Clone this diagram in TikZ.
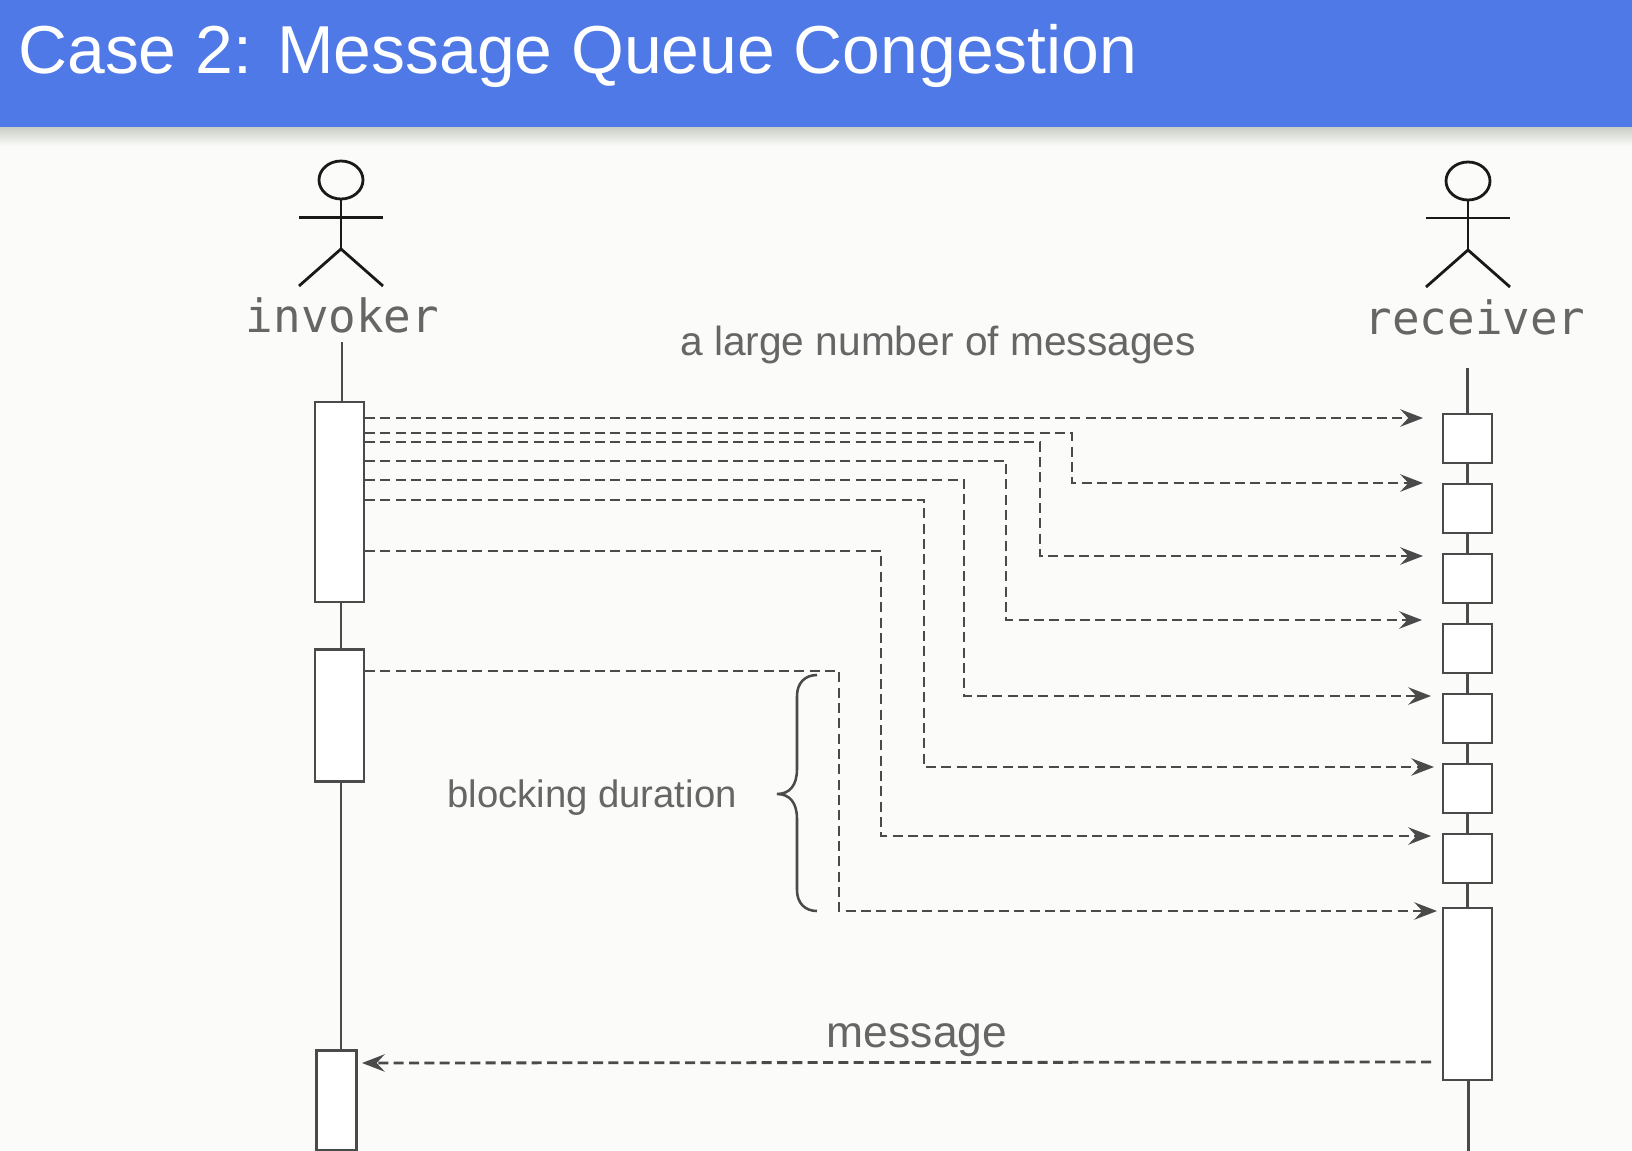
\documentclass[tikz,border=0pt]{standalone}
\usepackage{fontspec}
\setmainfont{Liberation Sans}
\newfontfamily\actorfont{DejaVu Sans Mono}
\usetikzlibrary{arrows.meta,calc,shapes.geometric}
\definecolor{pagebg}{HTML}{FBFBF9}
\definecolor{headblue}{HTML}{4F79E6}
\definecolor{linegray}{HTML}{4A4A4A}
\definecolor{textgray}{HTML}{666666}
\definecolor{shadowtop}{HTML}{C9CEC4}
\tikzset{
  bar/.style={draw=linegray,fill=white,line width=1.9pt,inner sep=0pt,outer sep=0pt,anchor=north west},
  life/.style={draw=linegray,line width=1.8pt},
  msg/.style={draw=linegray,line width=2.1pt,dash pattern=on 7.5pt off 4pt,-{Stealth[length=17pt,width=13pt,inset=6pt,fill=linegray]}},
  stick/.style={draw=black!90,line width=2.1pt},
  txtlabel/.style={text=textgray,inner sep=0pt,anchor=base},
  actorname/.style={text=textgray,inner sep=0pt,anchor=base,font=\actorfont\fontsize{34.4pt}{36pt}\selectfont},
}
\begin{document}
\begin{tikzpicture}[x=0.75pt,y=-0.75pt]
\useasboundingbox (0,0) rectangle (1632,1150);
\fill[pagebg] (0,0) rectangle (1632,1150);
\shade[top color=shadowtop,bottom color=pagebg] (0,127) rectangle (1632,146);
\fill[headblue] (0,0) rectangle (1632,127);
\node[text=white,inner sep=0pt,anchor=base west,font=\fontsize{50.9pt}{54pt}\selectfont] (title) at (18,73) {Case 2: Message Queue Congestion};

\begin{scope}[shift={(0,1)}]
% invoker actor
\node[stick,ellipse,minimum width=33pt,minimum height=28.5pt,inner sep=0pt,outer sep=0pt] (ihead) at (341,179) {};
\coordinate (ihip) at (341,248);
\coordinate (iarml) at (299,216.5);
\coordinate (iarmr) at (383,216.5);
\coordinate (ilegl) at (299,285);
\coordinate (ilegr) at (383,285);
\draw[stick] (ihead.south) -- (ihip);
\draw[stick] (iarml) -- (iarmr);
\draw[stick] (ilegl) -- (ihip) -- (ilegr);
\node[actorname] (iname) at (342.5,331) {invoker};

% receiver actor
\node[stick,ellipse,minimum width=33pt,minimum height=28.5pt,inner sep=0pt,outer sep=0pt] (rhead) at (1468,180) {};
\coordinate (rhip) at (1468,249);
\coordinate (rarml) at (1426,217);
\coordinate (rarmr) at (1510,217);
\coordinate (rlegl) at (1426,286);
\coordinate (rlegr) at (1510,286);
\draw[stick] (rhead.south) -- (rhip);
\draw[stick] (rarml) -- (rarmr);
\draw[stick] (rlegl) -- (rhip) -- (rlegr);
\node[actorname] (rname) at (1475,333) {receiver};

% lifeline ends
\coordinate (itop) at (342,341);
\coordinate (ibot) at (341,1150);
\coordinate (rtop) at (1467.5,367);
\coordinate (rbot) at (1468.5,1150);

% invoker bars
\node[bar,minimum width=36.75pt,minimum height=150pt] (a1) at (315,401) {};
\node[bar,minimum width=36.75pt,minimum height=99pt] (a2) at (315,648.5) {};
\node[bar,minimum width=30pt,minimum height=74.5pt] (a3) at (316.5,1049.5) {};

% receiver bars
\node[bar,minimum width=36.75pt,minimum height=36.75pt] (b1) at (1443,413) {};
\node[bar,minimum width=36.75pt,minimum height=36.75pt] (b2) at (1443,483) {};
\node[bar,minimum width=36.75pt,minimum height=36.75pt] (b3) at (1443,553) {};
\node[bar,minimum width=36.75pt,minimum height=36.75pt] (b4) at (1443,623) {};
\node[bar,minimum width=36.75pt,minimum height=36.75pt] (b5) at (1443,693) {};
\node[bar,minimum width=36.75pt,minimum height=36.75pt] (b6) at (1443,763) {};
\node[bar,minimum width=36.75pt,minimum height=36.75pt] (b7) at (1443,833) {};
\node[bar,minimum width=36.75pt,minimum height=129pt] (b8) at (1443,907) {};

% lifelines
\draw[life] (itop) -- (itop |- a1.north);
\draw[life] (ibot |- a1.south) -- (ibot |- a2.north);
\draw[life] (ibot |- a2.south) -- (ibot |- a3.north);
\draw[life] (ibot |- a3.south) -- (ibot);
\draw[life] (rtop) -- (b1.north);
\draw[life] (b1.south) -- (b2.north);
\draw[life] (b2.south) -- (b3.north);
\draw[life] (b3.south) -- (b4.north);
\draw[life] (b4.south) -- (b5.north);
\draw[life] (b5.south) -- (b6.north);
\draw[life] (b6.south) -- (b7.north);
\draw[life] (b7.south) -- (b8.north);
\draw[life] (rbot |- b8.south) -- (rbot);

% message end points
\coordinate (s1) at (365,417);   \coordinate (t1) at (1423,417);
\coordinate (s2) at (365,432);   \coordinate (t2) at (1423,482);
\coordinate (s3) at (365,441);   \coordinate (t3) at (1423,555);
\coordinate (s4) at (365,460);   \coordinate (t4) at (1422,619);
\coordinate (s5) at (365,479);   \coordinate (t5) at (1431,695);
\coordinate (s6) at (365,499);   \coordinate (t6) at (1434,766);
\coordinate (s7) at (365,550);   \coordinate (t7) at (1431,835);
\coordinate (s8) at (365,670);   \coordinate (t8) at (1437,910);
\coordinate (ms) at (1431,1061); \coordinate (mt) at (362,1062);

\draw[msg] (s1) -- (t1);
\draw[msg] (s2) -| (1072,482) -- (t2);
\draw[msg] (s3) -| (1040,555) -- (t3);
\draw[msg] (s4) -| (1006,619) -- (t4);
\draw[msg] (s5) -| (964,695) -- (t5);
\draw[msg] (s6) -| (924,766) -- (t6);
\draw[msg] (s7) -| (881,835) -- (t7);
\draw[msg] (s8) -| (839,910) -- (t8);
\draw[msg] (ms) -- (mt);

% brace
\coordinate (bt) at (817,674);
\coordinate (bb) at (817,910);
\coordinate (bm) at (777,793);
\draw[linegray,line width=1.9pt]
  (bt) .. controls (805,674) and (797,682) .. (797,695)
  -- (797,768) .. controls (797,784) and (790,793) .. (bm)
  .. controls (790,793) and (797,802) .. (797,818)
  -- (797,889) .. controls (797,902) and (805,910) .. (bb);
\end{scope}

% labels
\node[txtlabel,font=\fontsize{30.5pt}{32pt}\selectfont] (l1) at (938,355) {a large number of messages};
\node[txtlabel,font=\fontsize{28.7pt}{32pt}\selectfont] (l2) at (592,807) {blocking duration};
\node[txtlabel,font=\fontsize{33.3pt}{34pt}\selectfont] (l3) at (917,1047) {message};
\end{tikzpicture}
\end{document}
